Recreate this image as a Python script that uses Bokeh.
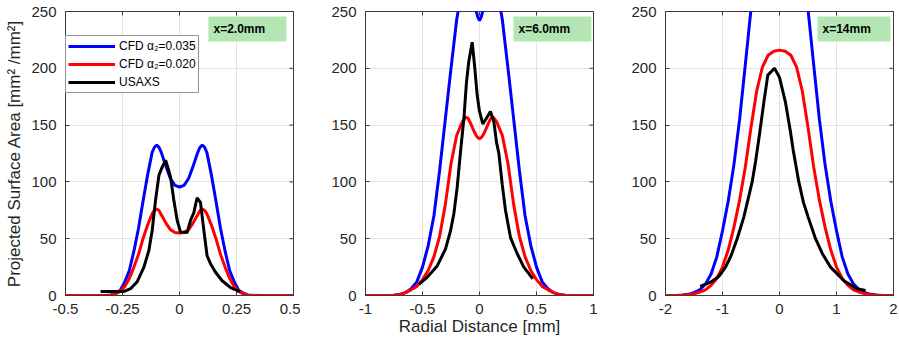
import math
from bokeh.plotting import figure
from bokeh.models import (LinearAxis, FixedTicker, BoxAnnotation, Label, Legend,
                          LegendItem, Range1d, Grid)
from bokeh.layouts import row
from bokeh.embed import file_html
from bokeh.resources import INLINE

# ---------------- data ----------------
# Panel 1 : x = 2.0 mm
p1_cfd_x = [-0.5, -0.35, -0.32, -0.30, -0.28, -0.26, -0.24, -0.22, -0.20, -0.18, -0.16, -0.14,
            -0.12, -0.11, -0.10, -0.09, -0.08, -0.06, -0.04, -0.02, 0.00, 0.02, 0.04, 0.06, 0.08,
            0.09, 0.10, 0.11, 0.12, 0.14, 0.16, 0.18, 0.20, 0.22, 0.24, 0.26, 0.28, 0.30, 0.32,
            0.35, 0.5]
p1_blue = [0, 0, 0.2, 0.5, 2, 4.5, 12, 22, 39, 59, 83, 106, 126, 130.5, 132.5, 130.5, 126, 114,
           103, 97, 95.5, 97, 103, 114, 126, 130.5, 132.5, 130.5, 126, 106, 83, 59, 39, 22, 12,
           4.5, 2, 0.5, 0.2, 0, 0]
p1_red = [0, 0, 0.1, 0.3, 1.5, 3.5, 8, 15, 25, 36, 50, 62, 72, 75, 76, 75, 71, 64, 58, 55.5, 55,
          55.5, 58, 64, 71, 75, 76, 75, 72, 62, 50, 36, 25, 15, 8, 3.5, 1.5, 0.3, 0.1, 0, 0]
p1_exp_x = [-0.346, -0.245, -0.215, -0.186, -0.156, -0.134, -0.12, -0.105, -0.09, -0.076, -0.061,
            -0.047, -0.039, -0.025, -0.01, 0.004, 0.034, 0.048, 0.063, 0.077, 0.092, 0.107, 0.121,
            0.136, 0.158, 0.187, 0.224, 0.253, 0.265]
p1_exp = [3.5, 3.5, 6, 12, 25, 40, 57, 84, 106, 113, 119, 110, 104, 84, 66, 56, 55.5, 66, 73, 86,
          82, 57, 35, 28, 20.5, 13, 7, 4.4, 3.5]

# Panel 2 : x = 6.0 mm
p2_cfd_x = [-1.0, -0.8, -0.75, -0.7, -0.65, -0.6, -0.55, -0.5, -0.45, -0.4, -0.35, -0.3, -0.25,
            -0.2, -0.15, -0.12, -0.1, -0.08, -0.05, -0.03, -0.015, 0.0, 0.015, 0.03, 0.05, 0.08,
            0.1, 0.12, 0.15, 0.2, 0.25, 0.3, 0.35, 0.4, 0.45, 0.5, 0.55, 0.6, 0.65, 0.7, 0.75, 0.8, 1.0]
p2_blue = [0, 0, 0.3, 0.8, 2.5, 6, 12, 25, 44, 70, 110, 155, 200, 243, 272, 280, 282, 278, 262,
           251, 245, 242, 245, 251, 262, 278, 282, 280, 272, 243, 200, 155, 110, 70, 44, 25, 12,
           6, 2.5, 0.8, 0.3, 0, 0]
p2_red = [0, 0, 0.3, 1, 2.5, 5, 8, 14, 22, 34, 52, 80, 116, 141, 153, 157, 156, 152, 145, 141,
          139, 138, 139, 141, 145, 152, 156, 157, 153, 141, 116, 80, 52, 34, 22, 14, 8, 5, 2.5,
          1, 0.3, 0, 0]
p2_exp_x = [-0.532, -0.459, -0.371, -0.298, -0.254, -0.225, -0.196, -0.167, -0.137, -0.114,
            -0.094, -0.064, -0.041, -0.02, 0.0, 0.029, 0.061, 0.096, 0.126, 0.149, 0.17, 0.199,
            0.228, 0.272, 0.33, 0.389, 0.468]
p2_exp = [9.7, 16, 26, 41, 57, 72, 95, 126, 156, 188, 206, 223, 200, 176, 162, 151, 156, 162,
          153, 135, 125, 98, 75, 51, 37, 25, 14.7]

# Panel 3 : x = 14 mm
p3_cfd_x = [-2.0, -1.8, -1.7, -1.6, -1.5, -1.4, -1.3, -1.2, -1.1, -1.0, -0.9, -0.8, -0.7, -0.6,
            -0.5, -0.4, -0.3, -0.2, -0.1, 0.0, 0.1, 0.2, 0.3, 0.4, 0.5, 0.6, 0.7, 0.8, 0.9, 1.0,
            1.1, 1.2, 1.3, 1.4, 1.5, 1.6, 1.7, 1.8, 2.0]
p3_blue = [0, 0, 0.4, 1, 2.5, 5, 10, 19, 34, 57, 83, 115, 155, 203, 252, 295, 335, 370, 392, 400,
           392, 370, 335, 295, 252, 203, 155, 115, 83, 57, 34, 19, 10, 5, 2.5, 1, 0.4, 0, 0]
p3_red = [0, 0, 0.3, 0.8, 1.5, 3, 5, 9, 15, 25, 40, 60, 84, 113, 148, 180, 201, 211.5, 215, 216,
          215, 211.5, 201, 180, 148, 113, 84, 60, 40, 25, 15, 9, 5, 3, 1.5, 0.8, 0.3, 0, 0]
p3_exp_x = [-1.39, -1.2, -1.06, -0.947, -0.85, -0.743, -0.626, -0.55, -0.48, -0.42, -0.345,
            -0.275, -0.205, -0.088, 0.0, 0.105, 0.193, 0.24, 0.339, 0.42, 0.503, 0.632, 0.75,
            0.895, 1.13, 1.36, 1.51]
p3_exp = [8, 12, 17, 25, 35, 50, 69, 85, 100, 118, 144, 170, 194, 200, 192, 170, 144, 128, 100,
          82, 69, 50, 37, 25, 13, 6, 4.4]

y_ticks = [0, 50, 100, 150, 200, 250]
p1_ticks = [-0.5, -0.25, 0, 0.25, 0.5]
p1_tick_labels = ["-0.5", "-0.25", "0", "0.25", "0.5"]
p2_ticks = [-1, -0.5, 0, 0.5, 1]
p2_tick_labels = ["-1", "-0.5", "0", "0.5", "1"]
p3_ticks = [-2, -1, 0, 1, 2]
p3_tick_labels = ["-2", "-1", "0", "1", "2"]

legend_labels = ["CFD α₂=0.035", "CFD α₂=0.020", "USAXS"]
station_labels = ["x=2.0mm", "x=6.0mm", "x=14mm"]

# ---------------- styling ----------------
FONT = "Liberation Sans"
TXT = "#262626"
FRAME = "#3a3a3a"
GRID = "#e3e3e3"
BLUE = "#0000ff"
RED = "#ff0000"
BLACK = "#000000"
LW = 3


def make_panel(xr, ticks, tick_labels, width, br, xlab=None, ylab=None):
    p = figure(width=width, height=340, x_range=Range1d(*xr), y_range=Range1d(0, 250),
               output_backend="svg", toolbar_location=None, x_axis_type=None, y_axis_type=None,
               min_border_left=65, min_border_right=br, min_border_top=11, min_border_bottom=45)
    p.outline_line_color = FRAME
    p.background_fill_color = "white"
    p.border_fill_color = "white"

    xt = FixedTicker(ticks=ticks)
    yt = FixedTicker(ticks=y_ticks)
    p.add_layout(Grid(dimension=0, ticker=xt, grid_line_color=GRID, grid_line_width=1))
    p.add_layout(Grid(dimension=1, ticker=yt, grid_line_color=GRID, grid_line_width=1))

    def style(ax):
        ax.axis_line_color = FRAME
        ax.major_tick_line_color = FRAME
        ax.major_tick_in = 4
        ax.major_tick_out = 0
        ax.minor_tick_line_color = None
        ax.major_label_text_font = FONT
        ax.major_label_text_font_size = "15px"
        ax.major_label_text_color = TXT

    bx = LinearAxis(ticker=xt, major_label_overrides=dict(zip(ticks, tick_labels)))
    style(bx)
    bx.major_label_standoff = 8
    if xlab:
        bx.axis_label = xlab
        bx.axis_label_text_font = FONT
        bx.axis_label_text_font_size = "17px"
        bx.axis_label_text_font_style = "normal"
        bx.axis_label_text_color = TXT
        bx.axis_label_standoff = 0
    p.add_layout(bx, "below")

    ly = LinearAxis(ticker=yt)
    style(ly)
    ly.major_label_standoff = 9
    if ylab:
        ly.axis_label = ylab
        ly.axis_label_text_font = FONT
        ly.axis_label_text_font_size = "17px"
        ly.axis_label_text_font_style = "normal"
        ly.axis_label_text_color = TXT
        ly.axis_label_standoff = 4
    p.add_layout(ly, "left")

    # inward tick marks on the top and right edges of the box (clipped to the frame)
    p.scatter(ticks, [250] * len(ticks), marker="dash", size=8, angle=math.pi / 2,
              line_color=FRAME, line_width=1)
    p.scatter([xr[1]] * len(y_ticks), y_ticks, marker="dash", size=8,
              line_color=FRAME, line_width=1)
    return p


def add_station(p, label, left, right, text_x):
    p.add_layout(BoxAnnotation(left=left, right=right, bottom=223.6, top=245.6,
                               fill_color="#b3e6b3", fill_alpha=1, line_color=None))
    p.add_layout(Label(x=text_x, y=234.6, text=label, text_font=FONT, text_font_size="12px",
                       text_font_style="bold", text_color=BLACK, text_baseline="middle",
                       text_align="left"))


p1 = make_panel((-0.5, 0.5), p1_ticks, p1_tick_labels, 300, 7,
                ylab="Projected Surface Area [mm² /mm²]")
r1b = p1.line(p1_cfd_x, p1_blue, line_color=BLUE, line_width=LW)
r1r = p1.line(p1_cfd_x, p1_red, line_color=RED, line_width=LW)
r1k = p1.line(p1_exp_x, p1_exp, line_color=BLACK, line_width=LW)
add_station(p1, station_labels[0], 0.127, 0.469, 0.149)

legend = Legend(items=[LegendItem(label=legend_labels[0], renderers=[r1b]),
                       LegendItem(label=legend_labels[1], renderers=[r1r]),
                       LegendItem(label=legend_labels[2], renderers=[r1k])],
                location=(0, 202), margin=0, padding=2, spacing=2,
                glyph_width=47, glyph_height=16, label_height=16, label_standoff=4,
                label_text_font=FONT, label_text_font_size="12px", label_text_color=BLACK,
                border_line_color=TXT, border_line_width=1,
                background_fill_color="white", background_fill_alpha=1)
p1.add_layout(legend)

p2 = make_panel((-1, 1), p2_ticks, p2_tick_labels, 300, 7, xlab="Radial Distance [mm]")
p2.line(p2_cfd_x, p2_blue, line_color=BLUE, line_width=LW)
p2.line(p2_cfd_x, p2_red, line_color=RED, line_width=LW)
p2.line(p2_exp_x, p2_exp, line_color=BLACK, line_width=LW)
add_station(p2, station_labels[1], 0.298, 0.982, 0.342)

p3 = make_panel((-2, 2), p3_ticks, p3_tick_labels, 299, 6)
p3.line(p3_cfd_x, p3_blue, line_color=BLUE, line_width=LW)
p3.line(p3_cfd_x, p3_red, line_color=RED, line_width=LW)
p3.line(p3_exp_x, p3_exp, line_color=BLACK, line_width=LW)
add_station(p3, station_labels[2], 0.667, 1.947, 0.754)

layout = row(p1, p2, p3)
open("out.html", "w").write(file_html(layout, INLINE))
